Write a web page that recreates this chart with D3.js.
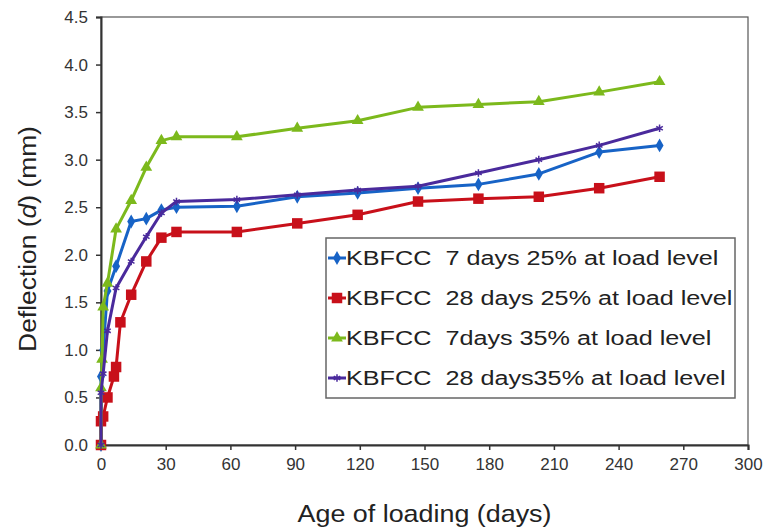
<!DOCTYPE html>
<html>
<head>
<meta charset="utf-8">
<script src="https://cdn.jsdelivr.net/npm/d3@7"></script>
<style>
  html, body { margin: 0; padding: 0; background: #fff; }
  svg { display: block; font-family: "Liberation Sans", Arial, sans-serif; }
  .legend-text { white-space: pre; }
</style>
</head>
<body>
<div class="chart"></div>
<script>
// Age of loading (days) and deflection (mm) for each mix
const days7d25 = [0, 0, 1, 3, 7, 14, 21, 28, 35, 63, 91, 119, 147, 175, 203, 231, 259];
const defl7d25 = [0, 0.72, 1.0, 1.62, 1.88, 2.35, 2.38, 2.47, 2.50, 2.51, 2.61, 2.65, 2.70, 2.74, 2.85, 3.08, 3.15];

const days28d25 = [0, 0, 1, 3, 6, 7, 9, 14, 21, 28, 35, 63, 91, 119, 147, 175, 203, 231, 259];
const defl28d25 = [0, 0.25, 0.3, 0.5, 0.72, 0.82, 1.29, 1.58, 1.93, 2.18, 2.24, 2.24, 2.33, 2.42, 2.56, 2.59, 2.61, 2.70, 2.82];

const days7d35 = [0, 0, 0.5, 1, 3, 7, 14, 21, 28, 35, 63, 91, 119, 147, 175, 203, 231, 259];
const defl7d35 = [0, 0.6, 0.9, 1.45, 1.7, 2.27, 2.57, 2.92, 3.20, 3.24, 3.24, 3.33, 3.41, 3.55, 3.58, 3.61, 3.71, 3.82];

const days28d35 = [0, 0, 1, 3, 7, 14, 21, 28, 35, 63, 91, 119, 147, 175, 203, 231, 259];
const defl28d35 = [0, 0.55, 0.75, 1.2, 1.65, 1.93, 2.19, 2.44, 2.56, 2.58, 2.63, 2.68, 2.72, 2.86, 3.0, 3.15, 3.33];

const seriesNames = [
    'KBFCC  7 days 25% at load level',
    'KBFCC  28 days 25% at load level',
    'KBFCC  7days 35% at load level',
    'KBFCC  28 days35% at load level'
];
const xTicks = [0, 30, 60, 90, 120, 150, 180, 210, 240, 270, 300];
const yTicks = [0, 0.5, 1, 1.5, 2, 2.5, 3, 3.5, 4, 4.5];

const series = [
    { name: seriesNames[0], x: days7d25, y: defl7d25, colour: '#1763c6', symbol: d3.symbolDiamond, size: 55, stroke: false },
    { name: seriesNames[1], x: days28d25, y: defl28d25, colour: '#c8101a', symbol: d3.symbolSquare, size: 110, stroke: false },
    { name: seriesNames[2], x: days7d35, y: defl7d35, colour: '#7cb91c', symbol: d3.symbolTriangle, size: 60, stroke: false },
    { name: seriesNames[3], x: days28d35, y: defl28d35, colour: '#4a2a9c', symbol: d3.symbolAsterisk, size: 40, stroke: true }
];

const fullWidth = 767, fullHeight = 531;
const margin = { top: 17, right: 19, bottom: 86, left: 101 };
const width = fullWidth - margin.left - margin.right;
const height = fullHeight - margin.top - margin.bottom;
const axisColour = '#333';
// the source picture is a little wider than its type, so text is stretched to match
const stretch = 1.2;

const svg = d3.select('.chart').append('svg')
    .attr('width', fullWidth)
    .attr('height', fullHeight);

const g = svg.append('g')
    .attr('transform', `translate(${margin.left}, ${margin.top})`);

const xScale = d3.scaleLinear().domain([0, 300]).range([0, width]);
const yScale = d3.scaleLinear().domain([0, 4.5]).range([height, 0]);

// plot area border
g.append('rect')
    .attr('width', width)
    .attr('height', height)
    .style('fill', 'none')
    .style('stroke', '#555')
    .style('stroke-width', 1.2);

// axes
const gX = g.append('g')
    .attr('transform', `translate(0, ${height})`)
    .call(d3.axisBottom(xScale).tickValues(xTicks).tickSize(5).tickPadding(8).tickFormat(d3.format('d')));
const gY = g.append('g')
    .call(d3.axisLeft(yScale).tickValues(yTicks).tickSize(5).tickPadding(8).tickFormat(d3.format('.1f')));

[gX, gY].forEach(ax => {
    ax.select('.domain').style('stroke', axisColour).style('stroke-width', 2);
    ax.selectAll('.tick line').style('stroke', axisColour).style('stroke-width', 1.5);
    ax.selectAll('.tick text')
        .style('fill', axisColour)
        .style('font-size', '17px')
        .style('font-family', '"Liberation Sans", Arial, sans-serif');
});

// series lines and markers
const line = d3.line()
    .x(d => xScale(d[0]))
    .y(d => yScale(d[1]));

series.forEach(s => {
    const pts = s.x.map((d, i) => [d, s.y[i]]);
    g.append('path')
        .datum(pts)
        .attr('d', line)
        .style('fill', 'none')
        .style('stroke', s.colour)
        .style('stroke-width', 3)
        .style('stroke-linejoin', 'round');
    g.selectAll(null)
        .data(pts)
        .enter().append('path')
        .attr('transform', d => `translate(${xScale(d[0])}, ${yScale(d[1])})`)
        .attr('d', d3.symbol().type(s.symbol).size(s.size))
        .style('fill', s.stroke ? 'none' : s.colour)
        .style('stroke', s.colour)
        .style('stroke-width', s.stroke ? 1.5 : 0);
});

// legend
const legend = svg.append('g').attr('transform', 'translate(326, 238)');
legend.append('rect')
    .attr('width', 409)
    .attr('height', 160)
    .style('fill', '#fff')
    .style('stroke', '#666')
    .style('stroke-width', 1.5);

series.forEach((s, i) => {
    const row = legend.append('g').attr('transform', `translate(0, ${20 + i * 40})`);
    row.append('line')
        .attr('x1', 2).attr('x2', 20)
        .style('stroke', s.colour)
        .style('stroke-width', 3);
    row.append('path')
        .attr('transform', 'translate(11, 0)')
        .attr('d', d3.symbol().type(s.symbol).size(s.size))
        .style('fill', s.stroke ? 'none' : s.colour)
        .style('stroke', s.colour)
        .style('stroke-width', s.stroke ? 1.5 : 0);
    row.append('text')
        .attr('class', 'legend-text')
        .attr('transform', `translate(20, 0) scale(${stretch}, 1)`)
        .attr('dy', '0.35em')
        .style('font-size', '21px')
        .style('fill', '#222')
        .text(s.name);
});

// axis titles
svg.append('text')
    .attr('transform', `translate(${margin.left + width / 2}, 522) scale(1.12, 1)`)
    .attr('text-anchor', 'middle')
    .style('font-size', '24px')
    .style('fill', '#222')
    .text('Age of loading (days)');

const yTitle = svg.append('text')
    .attr('transform', `translate(36, ${margin.top + height / 2 + 8}) rotate(-90) scale(1.1, 1)`)
    .attr('text-anchor', 'middle')
    .style('font-size', '24px')
    .style('fill', '#222');
yTitle.append('tspan').text('Deflection (');
yTitle.append('tspan').style('font-style', 'italic').text('d');
yTitle.append('tspan').text(') (mm)');
</script>
</body>
</html>
